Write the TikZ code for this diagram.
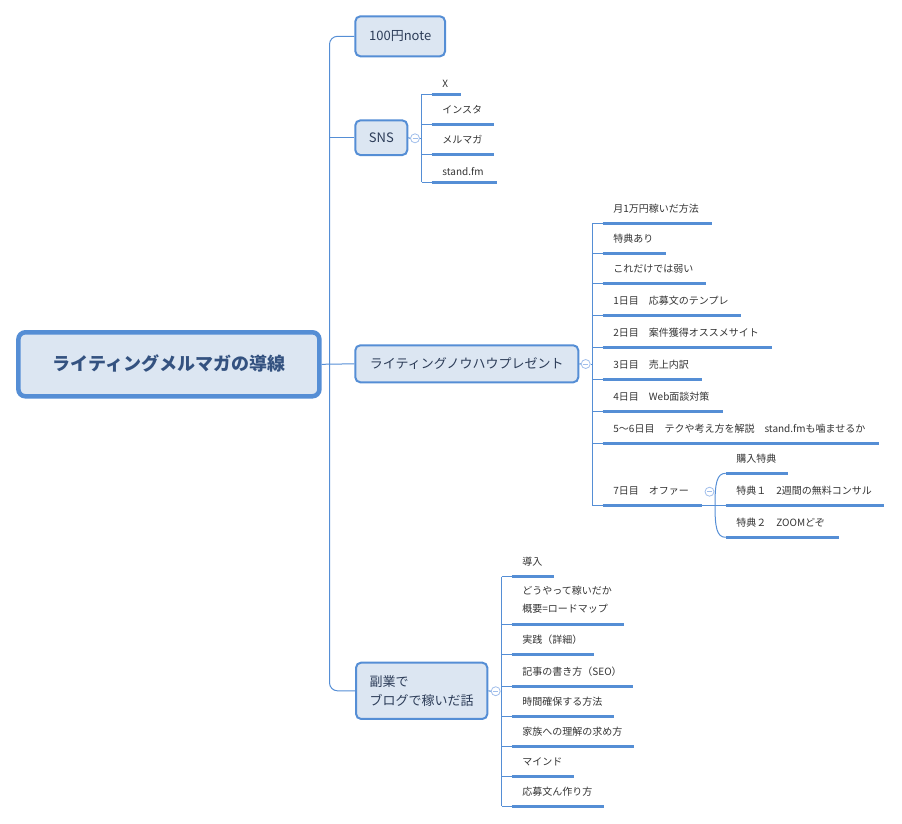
\documentclass[tikz,border=0pt]{standalone}
\usepackage{fontspec}
\setmainfont{Noto Sans CJK JP}
\usetikzlibrary{calc}

\definecolor{mmline}{RGB}{85,142,213}
\definecolor{mmfill}{RGB}{220,230,242}
\definecolor{mmtext}{RGB}{44,60,88}
\definecolor{mmroot}{RGB}{52,82,128}
\definecolor{mmbtn}{RGB}{160,190,235}

\tikzset{
  topic/.style={draw=mmline, fill=mmfill, line width=2pt, rounded corners=5pt,
    text=mmtext, font=\fontsize{13}{19.3}\selectfont, inner sep=0pt},
  conn/.style={draw=mmline, line width=1pt},
  uline/.style={draw=mmline, line width=3pt},
  leaf/.style={anchor=base west, inner sep=0pt, text=black!80,
    font=\fontsize{10}{17.6}\selectfont, align=left},
  fold/.style={circle, draw=mmbtn, fill=white, minimum size=9pt, inner sep=0pt,
    line width=0.8pt, path picture={\draw[mmbtn, line width=0.8pt]
      ([xshift=-2.5pt]path picture bounding box.center) --
      ([xshift=2.5pt]path picture bounding box.center);}}
}

\begin{document}
\begin{tikzpicture}[x=1pt, y=-1pt]
  \useasboundingbox (0,0) rectangle (902,823);

  % main topics
  \node[topic, line width=4.5pt, rounded corners=7pt, minimum width=301pt,
    minimum height=64pt, text=mmroot, font=\fontsize{18}{20}\selectfont\bfseries]
    (root) at (168.9,364.3) {\raisebox{3pt}{ライティングメルマガの導線}};
  \node[topic, minimum width=89.7pt, minimum height=40pt] (note) at (400.2,36.3) {100円note};
  \node[topic, minimum width=52pt, minimum height=34.7pt] (sns) at (381.3,137.7) {SNS};
  \node[topic, minimum width=223pt, minimum height=37pt] (know) at (466.8,363.8)
    {ライティングノウハウプレゼント};
  \node[topic, minimum width=131.3pt, minimum height=56.3pt, align=left] (fuku)
    at (421.7,690.8) {副業で\\ブログで稼いだ話};

  % trunk
  \coordinate (trunk) at (329.5,364.3);
  \draw[conn, rounded corners=8pt] (note.west) -| (trunk) |- (fuku.west);
  \draw[conn] (trunk |- sns.west) -- (sns.west);
  \draw[conn] (root.east) -- (know.west);

  % SNS
  \node[fold] (snsfold) at (415,138.3) {};
  \coordinate (snsbar) at (421.7,138.3);
  \draw[conn] (sns.east) -- (snsfold.west);
  \draw[conn] (snsfold.east) -- (snsbar);
  \foreach \y/\xe/\dy/\txt [count=\i] in {94.3/460.7/7/X, 124.3/494/11/インスタ,
      154/494/11/メルマガ, 182.3/496.7/7/stand.fm}{
    \coordinate (sns-u\i) at (431.7,\y);
    \coordinate (sns-e\i) at (\xe,\y);
    \draw[conn] (snsbar |- sns-u\i) -- (sns-u\i);
    \draw[uline] (sns-u\i) -- (sns-e\i);
    \node[leaf] (sns-t\i) at ([shift={(10.5,-\dy)}]sns-u\i) {\txt};
  }
  \draw[conn] (snsbar |- sns-u1) -- (snsbar |- sns-u4);

  % know-how
  \node[fold] (knowfold) at (585.7,364) {};
  \coordinate (knowbar) at (592.3,364);
  \draw[conn] (know.east) -- (knowfold.west);
  \draw[conn] (knowfold.east) -- (knowbar);
  \foreach \y/\xe/\txt [count=\i] in {223.3/711.7/月1万円稼いだ方法,
      253/665.7/特典あり, 283/705.7/これだけでは弱い,
      315.3/741.3/1日目　応募文のテンプレ, 347/771.7/2日目　案件獲得オススメサイト,
      379/701.7/3日目　売上内訳, 411.7/722.7/4日目　Web面談対策,
      443/879.3/5〜6日目　テクや考え方を解説　stand.fmも噛ませるか,
      505.3/701.7/7日目　オファー}{
    \coordinate (kn-u\i) at (602.7,\y);
    \coordinate (kn-e\i) at (\xe,\y);
    \draw[conn] (knowbar |- kn-u\i) -- (kn-u\i);
    \draw[uline] (kn-u\i) -- (kn-e\i);
    \node[leaf] (kn-t\i) at ([shift={(10.5,-11)}]kn-u\i) {\txt};
  }
  \draw[conn] (knowbar |- kn-u1) -- (knowbar |- kn-u9);

  % offer
  \node[fold] (offfold) at (709.5,491.7) {};
  \coordinate (offbar) at (715,505.3);
  \foreach \y/\xe/\txt [count=\i] in {473.3/788.3/購入特典,
      505.3/884/特典１　2週間の無料コンサル, 537.3/839.3/特典２　ZOOMどぞ}{
    \coordinate (of-u\i) at (725.7,\y);
    \coordinate (of-e\i) at (\xe,\y);
    \draw[uline] (of-u\i) -- (of-e\i);
    \node[leaf] (of-t\i) at ([shift={(10.5,-11)}]of-u\i) {\txt};
  }
  \draw[conn] (kn-e9) -- (of-u2);
  \draw[conn] (offbar) .. controls +(0,-22) and +(-9,0) .. (of-u1);
  \draw[conn] (offbar) .. controls +(0,22) and +(-9,0) .. (of-u3);

  % side job
  \node[fold] (fukufold) at (495.7,691.2) {};
  \coordinate (fukubar) at (501.7,691.2);
  \draw[conn] (fuku.east) -- (fukufold.west);
  \draw[conn] (fukufold.east) -- (fukubar);
  \foreach \y/\xe/\dy/\txt [count=\i] in {576.7/554.3/11/導入,
      624.3/624.3/12/{どうやって稼いだか\\概要=ロードマップ},
      654/594.3/11/実践（詳細）, 686.3/633.3/11/記事の書き方（SEO）,
      716.7/614.3/11/時間確保する方法, 746.3/634.3/11/家族への理解の求め方,
      776/574.3/11/マインド, 806/604.3/11/応募文ん作り方}{
    \coordinate (fu-u\i) at (511.7,\y);
    \coordinate (fu-e\i) at (\xe,\y);
    \draw[conn] (fukubar |- fu-u\i) -- (fu-u\i);
    \draw[uline] (fu-u\i) -- (fu-e\i);
    \node[leaf] (fu-t\i) at ([shift={(10.5,-\dy)}]fu-u\i) {\txt};
  }
  \draw[conn] (fukubar |- fu-u1) -- (fukubar |- fu-u8);
\end{tikzpicture}
\end{document}
